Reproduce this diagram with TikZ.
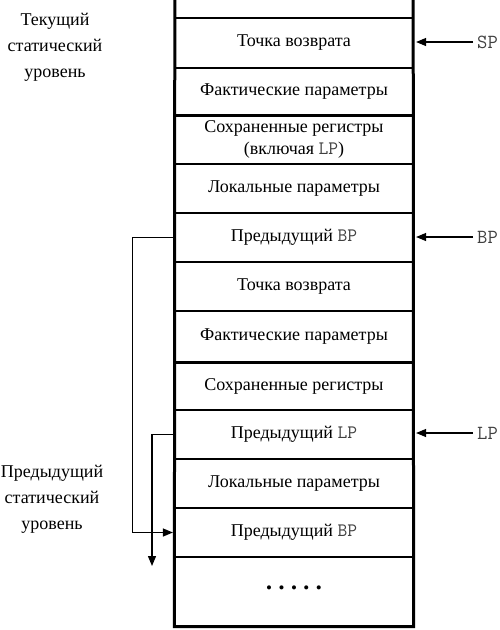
\documentclass[tikz,border=0pt]{standalone}
\usepackage{fontspec}
\setmainfont{Liberation Serif}
\usetikzlibrary{arrows.meta}
\begin{document}
\begin{tikzpicture}[x=1pt,y=-1pt,
  font=\fontsize{18}{22}\selectfont,
  cell/.style={draw, line width=1.2pt, minimum width=238pt, inner sep=0pt, align=center},
  frame/.style={line width=3pt},
  ptr/.style={line width=1.2pt, -{Triangle[length=10pt,width=8pt]}},
  reg/.style={font=\fontsize{20}{22}\selectfont\ttfamily, text=black!75, anchor=west, inner sep=0pt},
  side/.style={align=center, font=\fontsize{18}{26}\selectfont, inner sep=0pt}]
\useasboundingbox (0,0) rectangle (500,630);
\newcommand{\rg}[1]{{\fontsize{19}{22}\selectfont\ttfamily\color{black!75}#1}}
% cells
\node[minimum width=238pt, minimum height=18pt, inner sep=0pt] (c0) at (294,9) {};
\node[cell, minimum height=50pt] (c1) at (294,43) {Точка возврата};
\node[cell, minimum height=47pt] (c2) at (294,91.5) {Фактические параметры};
\node[cell, minimum height=49pt] (c3) at (294,139.5) {Сохраненные регистры\\(включая \rg{LP})};
\node[cell, minimum height=49pt] (c4) at (294,188.5) {Локальные параметры};
\node[cell, minimum height=49pt] (c5) at (294,237.5) {Предыдущий \rg{BP}};
\node[cell, minimum height=49pt] (c6) at (294,286.5) {Точка возврата};
\node[cell, minimum height=51pt] (c7) at (294,336.5) {Фактические параметры};
\node[cell, minimum height=48pt] (c8) at (294,386) {Сохраненные регистры};
\node[cell, minimum height=49pt] (c9) at (294,434.5) {Предыдущий \rg{LP}};
\node[cell, minimum height=49pt] (c10) at (294,483.5) {Локальные параметры};
\node[cell, minimum height=49pt] (c11) at (294,532.5) {Предыдущий \rg{BP}};
\node[cell, minimum height=69pt] (c12) at (294,591.5) {{\fontsize{17}{17}\selectfont \raisebox{4pt}{•\hspace{6.5pt}•\hspace{6.5pt}•\hspace{6.5pt}•\hspace{6.5pt}•}}};
% outer frame and frame boundaries
\draw[frame] (c0.north west) -- (c12.south west) -- (c12.south east) -- (c0.north east);
\draw[frame] (c2.south west) -- (c2.south east);
\draw[frame] (c7.south west) -- (c7.south east);
% register pointers
\node[reg] (sp) at (477,42) {SP};
\node[reg] (bp) at (477,237) {BP};
\node[reg] (lp) at (477,433) {LP};
\draw[ptr, shorten >=2.5pt] (sp.west) ++(-4,0) -- (c1.east |- sp.west);
\draw[ptr, shorten >=2.5pt] (bp.west) ++(-4,0) -- (c5.east |- bp.west);
\draw[ptr, shorten >=2.5pt] (lp.west) ++(-4,0) -- (c9.east |- lp.west);
% static links
\coordinate (lpend) at (152,566);
\draw[ptr, shorten >=1.5pt] (c5.west) -- ++(-42,0) |- (c11.west);
\draw[ptr] (c9.west) -| (lpend);
% side labels
\node[side] (cur) at (55,47) {Текущий\\статический\\уровень};
\node[side] (prev) at (52,499) {Предыдущий\\статический\\уровень};
\end{tikzpicture}
\end{document}
